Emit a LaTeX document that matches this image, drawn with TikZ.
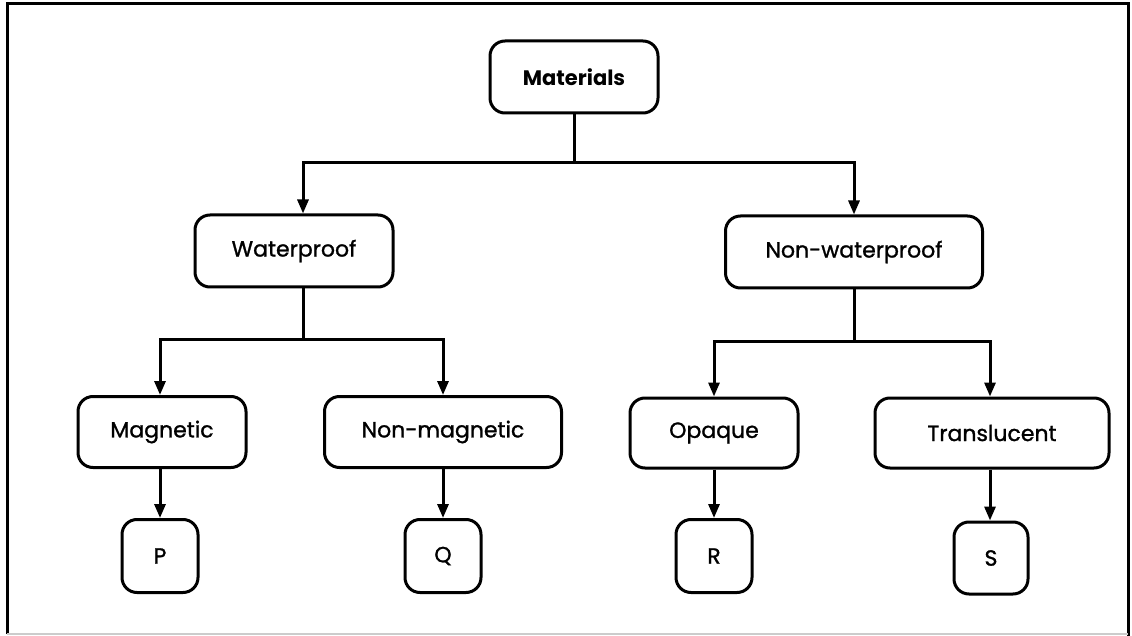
\documentclass[tikz,border=0pt]{standalone}
\usepackage{fontspec}
\setmainfont{Poppins}
\newfontfamily\medfont{Poppins}[FakeBold=1.2]
\usetikzlibrary{arrows.meta,calc}
\begin{document}
\begin{tikzpicture}[x=1pt,y=-1pt,
  box/.style={draw,line width=3pt,rounded corners=15pt,inner sep=0pt,align=center,font=\medfont\fontsize{22}{26}\selectfont},
  conn/.style={line width=3pt},
  arr/.style={line width=3pt,-{Triangle[length=14pt,width=11pt]}}]
\useasboundingbox (0,0) rectangle (1132,636);
% frame
\draw[line width=3pt] (7,634) -- (7,4) -- (1128,4) -- (1128,636);
\draw[line width=2.5pt,gray!40] (7,634) -- (1128,634);
% nodes
\node[box,minimum width=168pt,minimum height=72pt,font=\fontsize{21}{26}\selectfont\bfseries] (mat) at (574,77) {Materials};
\node[box,minimum width=198pt,minimum height=72pt] (wp) at (294,251) {Waterproof};
\node[box,minimum width=257pt,minimum height=72pt] (nwp) at (854,252) {Non-waterproof};
\node[box,minimum width=168pt,minimum height=71pt] (mag) at (162,432) {Magnetic};
\node[box,minimum width=237pt,minimum height=71pt] (nmag) at (443,432) {Non-magnetic};
\node[box,minimum width=168pt,minimum height=70pt] (opq) at (714,433) {Opaque};
\node[box,minimum width=234pt,minimum height=70pt] (trl) at (992,433) {Translucent};
\node[box,minimum width=76pt,minimum height=73pt] (p) at (160,556) {P};
\node[box,minimum width=76pt,minimum height=73pt] (q) at (443,556) {Q};
\node[box,minimum width=76pt,minimum height=73pt] (r) at (714,556) {R};
\node[box,minimum width=74pt,minimum height=72pt] (s) at (991,558) {S};
% junctions
\coordinate (j0) at (574,163);
\coordinate (j1) at (303,339);
\coordinate (j2) at (854,341);
% connectors
\draw[conn] (mat.south) -- (j0);
\draw[arr] (j0) -| ([xshift=9pt]wp.north);
\draw[arr] (j0) -| (nwp.north);
\draw[conn] ([xshift=9pt]wp.south) -- (j1);
\draw[arr] (j1) -| ([xshift=-2pt]mag.north);
\draw[arr] (j1) -| (nmag.north);
\draw[conn] (nwp.south) -- (j2);
\draw[arr] (j2) -| (opq.north);
\draw[arr] (j2) -| ([xshift=-2pt]trl.north);
\draw[arr] ([xshift=-2pt]mag.south) -- (p.north);
\draw[arr] (nmag.south) -- (q.north);
\draw[arr] (opq.south) -- (r.north);
\draw[arr] ([xshift=-1pt]s.north |- trl.south) -- ([xshift=-1pt]s.north);
\end{tikzpicture}
\end{document}
